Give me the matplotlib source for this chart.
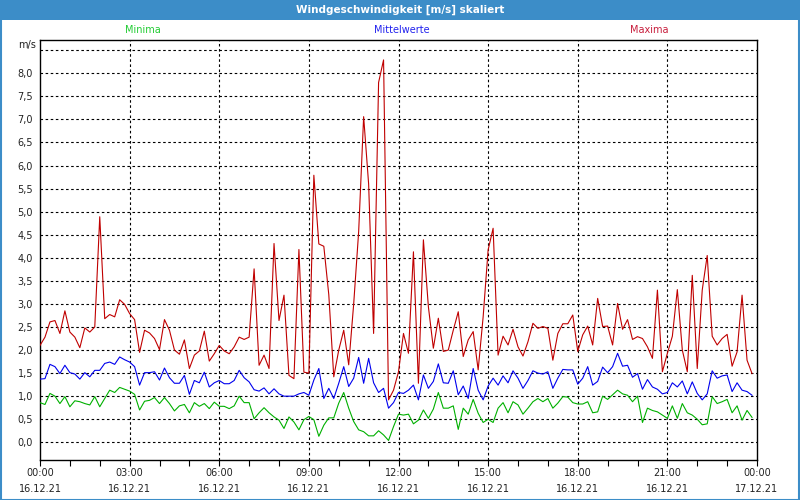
import matplotlib
matplotlib.use("Agg")
import matplotlib.pyplot as plt
from matplotlib.patches import Rectangle
import numpy as np

title = "Windgeschwindigkeit [m/s] skaliert"
series_names = ["Minima", "Mittelwerte", "Maxima"]

maxima = [
    2.10, 2.28, 2.61, 2.64, 2.36, 2.85, 2.39, 2.28, 2.05, 2.48,
    2.39, 2.50, 4.89, 2.68, 2.77, 2.72, 3.09, 2.99, 2.79, 2.66,
    1.95, 2.43, 2.37, 2.25, 2.01, 2.66, 2.43, 2.00, 1.91, 2.22,
    1.60, 1.89, 1.98, 2.41, 1.76, 1.92, 2.10, 1.98, 1.92, 2.07,
    2.28, 2.23, 2.28, 3.76, 1.67, 1.89, 1.60, 4.31, 2.64, 3.19,
    1.45, 1.38, 4.18, 1.52, 1.50, 5.79, 4.30, 4.25, 3.20, 1.42,
    2.00, 2.43, 1.68, 3.00, 4.57, 7.06, 5.60, 2.36, 7.80, 8.29,
    0.92, 1.13, 1.53, 2.36, 1.93, 4.13, 1.28, 4.39, 2.94, 2.04,
    2.69, 1.97, 2.00, 2.43, 2.83, 1.86, 2.22, 2.40, 1.57, 2.72,
    4.17, 4.64, 1.89, 2.30, 2.11, 2.45, 2.07, 1.87, 2.18, 2.58,
    2.47, 2.51, 2.47, 1.78, 2.36, 2.57, 2.57, 2.76, 1.97, 2.33,
    2.52, 2.11, 3.12, 2.51, 2.52, 2.11, 3.01, 2.45, 2.66, 2.23,
    2.29, 2.25, 2.07, 1.82, 3.30, 1.53, 1.93, 2.30, 3.31, 2.00,
    1.53, 3.62, 1.60, 3.30, 4.05, 2.30, 2.11, 2.25, 2.34, 1.65,
    1.96, 3.19, 1.78, 1.49,
]

mittelwerte = [
    1.37, 1.38, 1.69, 1.64, 1.49, 1.67, 1.51, 1.48, 1.37, 1.51,
    1.42, 1.56, 1.56, 1.71, 1.74, 1.69, 1.85, 1.79, 1.74, 1.64,
    1.24, 1.51, 1.51, 1.53, 1.35, 1.61, 1.40, 1.28, 1.28, 1.45,
    1.04, 1.34, 1.29, 1.52, 1.20, 1.29, 1.34, 1.27, 1.27, 1.34,
    1.56, 1.40, 1.31, 1.14, 1.11, 1.18, 1.05, 1.16, 1.05, 1.00,
    1.00, 1.00, 1.05, 1.08, 1.02, 1.35, 1.60, 0.95, 1.17, 0.95,
    1.28, 1.64, 1.21, 1.39, 1.84, 1.28, 1.82, 1.29, 1.08, 1.17,
    0.74, 0.86, 1.08, 1.06, 1.13, 1.24, 0.92, 1.46, 1.17, 1.32,
    1.70, 1.29, 1.28, 1.55, 1.03, 1.22, 0.95, 1.60, 1.13, 0.92,
    1.22, 1.39, 1.24, 1.44, 1.29, 1.55, 1.39, 1.17, 1.34, 1.55,
    1.50, 1.48, 1.53, 1.17, 1.39, 1.58, 1.57, 1.57, 1.26, 1.39,
    1.64, 1.24, 1.32, 1.63, 1.51, 1.64, 1.93, 1.65, 1.67, 1.41,
    1.49, 1.15, 1.36, 1.20, 1.15, 1.05, 1.08, 1.29, 1.20, 1.33,
    1.05, 1.31, 1.06, 0.92, 1.05, 1.55, 1.39, 1.44, 1.46, 1.10,
    1.29, 1.13, 1.10, 1.02,
]

minima = [
    0.86, 0.82, 1.06, 1.00, 0.84, 0.99, 0.77, 0.90, 0.88, 0.84,
    0.81, 0.99, 0.77, 0.95, 1.13, 1.08, 1.19, 1.15, 1.11, 1.04,
    0.70, 0.89, 0.91, 0.97, 0.84, 0.97, 0.84, 0.68, 0.79, 0.82,
    0.64, 0.86, 0.78, 0.84, 0.73, 0.87, 0.78, 0.78, 0.73, 0.79,
    1.00, 0.86, 0.86, 0.51, 0.64, 0.75, 0.64, 0.55, 0.48, 0.30,
    0.55, 0.44, 0.27, 0.49, 0.56, 0.49, 0.13, 0.37, 0.53, 0.53,
    0.85, 1.08, 0.74, 0.45, 0.27, 0.23, 0.14, 0.14, 0.25, 0.16,
    0.04, 0.34, 0.61, 0.59, 0.61, 0.40, 0.48, 0.70, 0.52, 0.72,
    1.08, 0.74, 0.74, 0.79, 0.28, 0.74, 0.61, 0.93, 0.63, 0.43,
    0.50, 0.43, 0.74, 0.86, 0.64, 0.88, 0.81, 0.61, 0.74, 0.88,
    0.95, 0.88, 0.95, 0.74, 0.85, 0.99, 0.98, 0.86, 0.83, 0.83,
    0.88, 0.64, 0.66, 1.00, 0.93, 1.03, 1.13, 1.05, 1.02, 0.88,
    1.00, 0.43, 0.74, 0.69, 0.66, 0.59, 0.52, 0.79, 0.52, 0.84,
    0.64, 0.59, 0.50, 0.38, 0.40, 0.99, 0.84, 0.88, 0.93, 0.64,
    0.79, 0.48, 0.69, 0.54,
]

x_tick_hours = [0, 3, 6, 9, 12, 15, 18, 21, 24]
x_tick_labels = ["00:00\n16.12.21", "03:00\n16.12.21", "06:00\n16.12.21",
                 "09:00\n16.12.21", "12:00\n16.12.21", "15:00\n16.12.21",
                 "18:00\n16.12.21", "21:00\n16.12.21", "00:00\n17.12.21"]
y_ticks = [0.0, 0.5, 1.0, 1.5, 2.0, 2.5, 3.0, 3.5, 4.0, 4.5, 5.0, 5.5, 6.0, 6.5, 7.0, 7.5, 8.0]

hours = np.arange(len(maxima)) * (24.0 / 144.0)

W, H = 800, 500
fig = plt.figure(figsize=(8, 5), dpi=100)
fig.patch.set_facecolor("white")

bar_blue = "#3c8dc8"
# title bar
fig.patches.append(Rectangle((0, 1 - 20 / H), 1, 20 / H, transform=fig.transFigure,
                             facecolor=bar_blue, edgecolor="none", zorder=0))
# border
fig.patches.append(Rectangle((0.5 / W, 0.5 / H), 1 - 1.5 / W, 1 - 1.5 / H,
                             transform=fig.transFigure, facecolor="none",
                             edgecolor=bar_blue, linewidth=1.5, zorder=0))
fig.text(0.5, 1 - 10 / H, title, color="white", fontsize=7.5, fontweight="bold",
         ha="center", va="center", family="DejaVu Sans")

# series labels
fig.text(143 / W, 1 - 30 / H, series_names[0], color="#22cc33", fontsize=7, ha="center", va="center")
fig.text(402 / W, 1 - 30 / H, series_names[1], color="#2222ee", fontsize=7, ha="center", va="center")
fig.text(649 / W, 1 - 30 / H, series_names[2], color="#c81e3c", fontsize=7, ha="center", va="center")

ax = fig.add_axes([40 / W, 1 - 460 / H, 717 / W, 420 / H])
ax.set_facecolor("white")

y0_px, per_unit = 442.3, 46.125
ax.set_ylim((y0_px - 460) / per_unit, (y0_px - 40) / per_unit)
ax.set_xlim(0, 24)

grid_kw = dict(color="black", linewidth=0.8, linestyle=(0, (2.3, 2.3)), zorder=1)
for v in y_ticks + [8.5]:
    ax.axhline(v, **grid_kw)
for h in x_tick_hours[1:-1]:
    ax.axvline(h, **grid_kw)

ax.plot(hours, maxima, color="#c00000", linewidth=0.8, zorder=3)
ax.plot(hours, mittelwerte, color="#0000ee", linewidth=0.8, zorder=3)
ax.plot(hours, minima, color="#00b000", linewidth=0.8, zorder=3)

for s in ax.spines.values():
    s.set_color("black")
    s.set_linewidth(1.0)

ax.set_yticks(y_ticks)
ax.set_yticklabels([f"{v:.1f}".replace(".", ",") for v in y_ticks])
ax.tick_params(axis="y", length=0, pad=5, labelsize=7, labelcolor="#222222")
ax.set_xticks(x_tick_hours)
ax.set_xticklabels(x_tick_labels, linespacing=1.75)
ax.set_xticks(np.arange(0, 25, 1), minor=True)
ax.tick_params(axis="x", which="both", direction="out", length=4, width=0.8,
               pad=2, labelsize=7, labelcolor="#222222")

fig.text(36 / W, 1 - 45 / H, "m/s", fontsize=7, color="#222222", ha="right", va="center")

fig.savefig("out.png", dpi=100, facecolor="white")
